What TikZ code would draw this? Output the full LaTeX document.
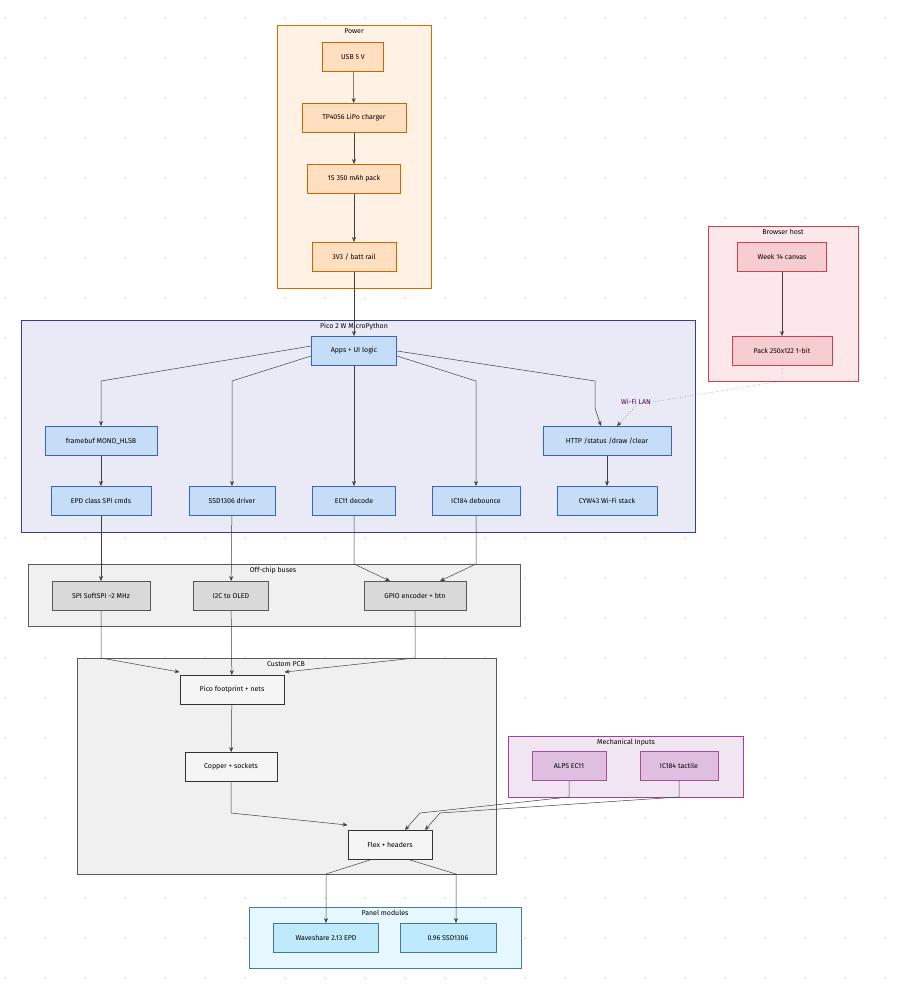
\documentclass[tikz,border=0pt]{standalone}
\usepackage{fontspec}
\setmainfont{Fira Sans}
\usetikzlibrary{arrows.meta}
\definecolor{pcfill}{HTML}{C6DDF8}
\definecolor{pcdraw}{HTML}{3A63C4}
\definecolor{pcgrp}{HTML}{E9EAF6}
\definecolor{pcgdraw}{HTML}{2E3FA0}
\definecolor{brgrp}{HTML}{FCE8EA}
\definecolor{brfill}{HTML}{F7CDD2}
\definecolor{brdraw}{HTML}{D0404A}
\begin{document}
\begin{tikzpicture}[x=1pt,y=-1pt,
  font=\fontsize{7}{8}\selectfont,
  grp/.style={draw,line width=0.9pt},
  box/.style={draw,line width=0.9pt,minimum height=29pt,inner sep=3pt,anchor=center},
  ar/.style={-{Stealth[length=5pt,width=4pt]},line width=0.5pt,draw=black!75},
  pw/.style={box,fill=orange!25,draw=orange!80!black},
  pc/.style={box,fill=pcfill,draw=pcdraw},
  ob/.style={box,fill=gray!30,draw=gray!70!black},
  pcb/.style={box,fill=gray!8,draw=black!80},
  me/.style={box,fill=violet!25,draw=violet!70},
  pn/.style={box,fill=cyan!25,draw=cyan!50!black},
  br/.style={box,fill=brfill,draw=brdraw},
  gl/.style={anchor=north,inner sep=1pt}]
\useasboundingbox (0,0) rectangle (905,1000);
\fill[white] (0,0) rectangle (905,1000);
\foreach \i in {0,...,22}{\foreach \j in {0,...,24}{\fill[gray!25] (5+\i*40,18+\j*40) circle (1.2);}}
% groups
\draw[grp,fill=orange!10,draw=orange!85!black] (277,25) rectangle (431,288);
\node[gl] at (354,27) {Power};
\draw[grp,fill=pcgrp,draw=pcgdraw] (21,320) rectangle (695,532);
\node[gl] at (354,322) {Pico 2 W MicroPython};
\draw[grp,fill=gray!12,draw=gray!70!black] (28,564) rectangle (520,626);
\node[gl] at (273,566) {Off-chip buses};
\draw[grp,fill=gray!12,draw=gray!70!black] (77,658) rectangle (496,874);
\node[gl] at (286,660) {Custom PCB};
\draw[grp,fill=violet!10,draw=violet!75] (508,736) rectangle (743,797);
\node[gl] at (626,738) {Mechanical Inputs};
\draw[grp,fill=cyan!10,draw=cyan!55!black] (249,907) rectangle (521,968);
\node[gl] at (385,909) {Panel modules};
\draw[grp,fill=brgrp,draw=brdraw] (708,226) rectangle (858,381);
\node[gl] at (783,228) {Browser host};
% nodes
\node[pw,minimum width=61pt] (usb) at (353,57) {USB 5 V};
\node[pw,minimum width=104pt] (tp) at (354,118) {TP4056 LiPo charger};
\node[pw,minimum width=93pt] (pack) at (354,179) {1S 350 mAh pack};
\node[pw,minimum width=84pt] (rail) at (354,257) {3V3 / batt rail};
\node[pc,minimum width=85pt] (apps) at (354,351) {Apps + UI logic};
\node[pc,minimum width=112pt] (fb) at (101,441) {framebuf MONO\_HLSB};
\node[pc,minimum width=128pt] (http) at (607,441) {HTTP /status /draw /clear};
\node[pc,minimum width=100pt] (epd) at (101,501) {EPD class SPI cmds};
\node[pc,minimum width=86pt] (ssd) at (232,501) {SSD1306 driver};
\node[pc,minimum width=83pt] (ec) at (354,501) {EC11 decode};
\node[pc,minimum width=88pt] (ic) at (476,501) {IC184 debounce};
\node[pc,minimum width=100pt] (cyw) at (607,501) {CYW43 Wi-Fi stack};
\node[ob,minimum width=98pt] (spi) at (101,596) {SPI SoftSPI \textasciitilde2 MHz};
\node[ob,minimum width=75pt] (i2c) at (231,596) {I2C to OLED};
\node[ob,minimum width=102pt] (gpio) at (415,596) {GPIO encoder + btn};
\node[pcb,minimum width=104pt] (foot) at (232,690) {Pico footprint + nets};
\node[pcb,minimum width=92pt] (cop) at (231,767) {Copper + sockets};
\node[pcb,minimum width=84pt] (flex) at (390,845) {Flex + headers};
\node[me,minimum width=74pt] (alps) at (569,766) {ALPS EC11};
\node[me,minimum width=78pt] (tact) at (679,766) {IC184 tactile};
\node[pn,minimum width=105pt] (wave) at (326,938) {Waveshare 2.13 EPD};
\node[pn,minimum width=96pt] (oled) at (448,938) {0.96 SSD1306};
\node[br,minimum width=89pt] (week) at (782,257) {Week 14 canvas};
\node[br,minimum width=100pt] (pk) at (782,351) {Pack 250x122 1-bit};
% edges
\draw[ar] (usb) -- (tp);
\draw[ar] (tp) -- (pack);
\draw[ar] (pack) -- (rail);
\draw[ar] (rail) -- (apps);
\draw[ar] (week) -- (pk);
\draw[ar] ([yshift=5pt]apps.west) -- (101,381) -- (fb.north);
\draw[ar] ([yshift=-5pt]apps.west) -- (232,381) -- (ssd.north);
\draw[ar] (apps) -- (ec);
\draw[ar] ([yshift=-5pt]apps.east) -- (476,381) -- (ic.north);
\draw[ar] (apps.east) -- (595,381) -- (595,408) -- ([xshift=-6pt]http.north);
\node[fill=pcgrp,inner sep=1pt,text=violet!60!black] (wl) at (636,402) {Wi-Fi LAN};
\draw[dotted,line width=0.5pt,draw=black!60] (pk.south) -- (782,381) -- (wl.east);
\draw[ar,dotted] (wl.south) -- ([xshift=10pt]http.north);
\draw[ar] (fb) -- (epd);
\draw[ar] (http) -- (cyw);
\draw[ar] (epd) -- (spi);
\draw[ar] (ssd) -- (i2c);
\draw[ar] (ec) -- (354,564) -- ([xshift=-25pt]gpio.north);
\draw[ar] (ic) -- (476,564) -- ([xshift=25pt]gpio.north);
\draw[ar] (spi) -- (101,658) -- ([yshift=3pt]foot.north west);
\draw[ar] (i2c) -- (foot);
\draw[ar] (gpio) -- (415,658) -- ([yshift=3pt]foot.north east);
\draw[ar] (foot) -- (cop);
\draw[ar] (cop) -- (231,813) -- ([yshift=5pt]flex.north west);
\draw[ar] (alps) -- (569,797) -- (420,813) -- ([xshift=15pt]flex.north);
\draw[ar] (tact) -- (679,797) -- (440,813) -- ([xshift=35pt]flex.north);
\draw[ar] ([xshift=-20pt]flex.south) -- (326,874) -- (wave.north);
\draw[ar] ([xshift=20pt]flex.south) -- (456,874) -- ([xshift=8pt]oled.north);
\end{tikzpicture}
\end{document}
